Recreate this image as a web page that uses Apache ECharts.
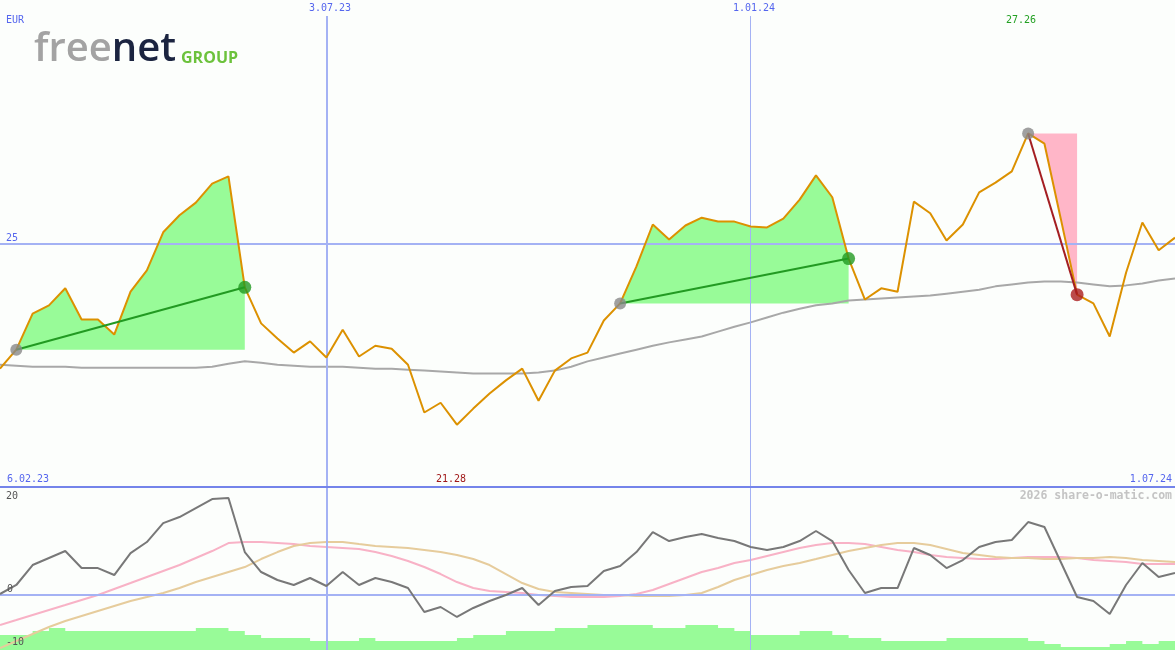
<!DOCTYPE html>
<html><head><meta charset="utf-8">
<script src="https://cdn.jsdelivr.net/npm/echarts@6/dist/echarts.min.js"></script>
<style>html,body{margin:0;padding:0;background:#fcfefc}#c{width:1175px;height:650px}</style>
</head><body><div id="c"></div>
<script>
// ---- data (weekly points, index 0..72) ----
const price = [22.43,22.82,23.56,23.73,24.08,23.44,23.44,23.13,24.01,24.45,25.23,25.58,25.84,26.23,26.38,24.10,23.36,23.05,22.76,22.99,22.66,23.23,22.68,22.90,22.84,
22.51,21.53,21.73,21.28,21.61,21.92,22.19,22.43,21.77,22.39,22.64,22.76,23.42,23.77,24.53,25.39,25.08,25.37,25.53,25.45,25.45,25.35,25.33,25.51,25.90,
26.40,25.95,24.69,23.85,24.08,24.01,25.86,25.62,25.06,25.39,26.05,26.25,26.48,27.26,27.05,25.51,23.95,23.77,23.09,24.40,25.43,24.86,25.12];
const movingAvg = [22.51,22.49,22.47,22.47,22.47,22.45,22.45,22.45,22.45,22.45,22.45,22.45,22.45,22.47,22.53,22.58,22.55,22.51,22.49,22.47,22.47,22.47,22.45,22.43,22.43,
22.41,22.39,22.37,22.35,22.33,22.33,22.33,22.33,22.35,22.39,22.47,22.58,22.66,22.74,22.82,22.90,22.97,23.03,23.09,23.19,23.29,23.38,23.48,23.58,23.66,
23.73,23.77,23.83,23.85,23.87,23.89,23.91,23.93,23.97,24.01,24.05,24.12,24.16,24.20,24.22,24.22,24.20,24.16,24.12,24.14,24.18,24.24,24.28];
const momentum = [0.19,1.89,5.66,6.98,8.30,5.09,5.09,3.77,7.92,10.0,13.58,14.72,16.42,18.11,18.30,8.11,4.34,2.83,1.89,3.21,1.70,4.34,1.89,3.21,2.45,
1.32,-3.21,-2.26,-4.15,-2.45,-1.13,0,1.32,-1.89,0.75,1.51,1.70,4.53,5.47,8.11,11.89,10.19,10.94,11.51,10.75,10.19,9.06,8.49,9.06,10.19,
12.08,10.19,4.72,0.38,1.32,1.32,8.87,7.55,5.09,6.60,9.06,10.0,10.38,13.77,12.83,6.23,-0.38,-1.13,-3.58,1.89,6.04,3.40,4.15];
const signalPink = [-5.66,-4.72,-3.77,-2.83,-1.89,-0.94,0,1.13,2.26,3.40,4.53,5.66,6.98,8.30,9.81,10.0,10.0,9.81,9.62,9.25,9.06,8.87,8.68,8.11,7.36,
6.42,5.28,3.96,2.45,1.32,0.75,0.57,0.38,0,-0.19,-0.38,-0.38,-0.38,-0.19,0.19,0.94,2.08,3.21,4.34,5.09,6.04,6.60,7.36,8.11,8.87,
9.43,9.81,9.81,9.62,9.06,8.49,8.11,7.55,7.17,6.98,6.79,6.79,6.98,7.17,7.17,7.17,6.98,6.60,6.42,6.23,5.85,5.85,5.85];
const signalTan = [-10.0,-8.68,-7.36,-6.04,-4.91,-3.96,-3.02,-2.08,-1.13,-0.38,0.38,1.32,2.45,3.40,4.34,5.28,6.79,8.11,9.25,9.81,10.0,10.0,9.62,9.25,9.06,
8.87,8.49,8.11,7.55,6.79,5.66,3.96,2.26,1.13,0.57,0.38,0.19,0,0,-0.19,-0.19,-0.19,0,0.38,1.51,2.83,3.77,4.72,5.47,6.04,
6.79,7.55,8.30,8.87,9.43,9.81,9.81,9.43,8.68,7.92,7.55,7.17,6.98,6.98,6.79,6.79,6.98,6.98,7.17,6.98,6.60,6.42,6.23];
const histBars = [-7.55,-7.55,-6.79,-6.23,-6.79,-6.79,-6.79,-6.79,-6.79,-6.79,-6.79,-6.79,-6.23,-6.23,-6.79,-7.55,-8.11,-8.11,-8.11,-8.68,-8.68,-8.68,-8.11,-8.68,-8.68,
-8.68,-8.68,-8.68,-8.11,-7.55,-7.55,-6.79,-6.79,-6.79,-6.23,-6.23,-5.66,-5.66,-5.66,-5.66,-6.23,-6.23,-5.66,-5.66,-6.23,-6.79,-7.55,-7.55,-7.55,-6.79,
-6.79,-7.55,-8.11,-8.11,-8.68,-8.68,-8.68,-8.68,-8.11,-8.11,-8.11,-8.11,-8.11,-8.68,-9.25,-9.81,-9.81,-9.81,-9.25,-8.68,-9.25,-8.68];
const buySignals = [[1, 15], [38, 52]];   // [entry index, exit index]
const sellSignals = [[63, 66]];
const dateLineIdx = [20, 46];
const dateLabels = ['3.07.23', '1.01.24'];
const priceTick = 25;
const maxLabel = '27.26', minLabel = '21.28';
const startLabel = '6.02.23', endLabel = '1.07.24';

// ---- build ----
const chart = echarts.init(document.getElementById('c'), null, {renderer: 'canvas'});
const pts = (arr, a, b) => { const r = []; for (let i = a; i <= b; i++) r.push([i, arr[i]]); return r; };
const GRID = '#a4b2f4';
const series = [];
const mono = '"DejaVu Sans Mono", monospace';

function bandSeries(s, e, color, z) {
  const data = [];
  for (let i = s; i <= e; i++) data.push([i, price[i], price[s]]);
  return {type: 'custom', data, z, silent: true, clip: true, encode: {x: 0, y: 1},
    renderItem: (params, api) => {
      if (params.dataIndex !== 0) return;
      const top = [], bot = [];
      for (let k = 0; k < data.length; k++) {
        top.push(api.coord([data[k][0], data[k][1]]));
        bot.push(api.coord([data[k][0], data[k][2]]));
      }
      return {type: 'polygon', shape: {points: top.concat(bot.reverse())}, style: {fill: color}};
    }};
}

// grid lines top
series.push({type: 'line', xAxisIndex: 0, yAxisIndex: 0, data: [[0, priceTick]], showSymbol: false, lineStyle: {opacity: 0}, z: 2, silent: true,
  markLine: {silent: true, symbol: 'none', label: {show: false}, animation: false,
    data: [
      {yAxis: priceTick, lineStyle: {color: GRID, width: 2, type: 'solid'}},
      [{coord: [dateLineIdx[0], 29.67], lineStyle: {color: GRID, width: 2, type: 'solid'}}, {coord: [dateLineIdx[0], 20]}],
      [{coord: [dateLineIdx[1], 29.67], lineStyle: {color: GRID, width: 1, type: 'solid'}}, {coord: [dateLineIdx[1], 20]}]
    ]}});
// grid lines bottom
series.push({type: 'line', xAxisIndex: 1, yAxisIndex: 1, data: [[0, 0]], showSymbol: false, lineStyle: {opacity: 0}, z: 1, silent: true,
  markLine: {silent: true, symbol: 'none', label: {show: false}, animation: false,
    data: [
      {yAxis: 0, lineStyle: {color: GRID, width: 2, type: 'solid'}},
      {xAxis: dateLineIdx[0], lineStyle: {color: GRID, width: 2, type: 'solid'}},
      {xAxis: dateLineIdx[1], lineStyle: {color: GRID, width: 1, type: 'solid'}}
    ]}});

buySignals.forEach(([s, e]) => series.push(bandSeries(s, e, '#98fb98', 3)));
sellSignals.forEach(([s, e]) => series.push(bandSeries(s, e, '#ffb6c8', 1)));

// moving average
series.push({type: 'line', data: pts(movingAvg, 0, 72), showSymbol: false, lineStyle: {color: '#a8a8a8', width: 2}, z: 4, silent: true});
// price
series.push({type: 'line', data: pts(price, 0, 72), showSymbol: false, lineStyle: {color: '#dc9100', width: 2}, z: 5, silent: true});
// trend lines + markers
buySignals.forEach(([s, e]) => {
  series.push({type: 'line', data: [[s, price[s]], [e, price[e]]], showSymbol: false, lineStyle: {color: '#229a22', width: 2}, z: 6, silent: true});
  series.push({type: 'scatter', data: [[s, price[s]]], symbolSize: 12, itemStyle: {color: '#888888'}, z: 7, silent: true});
  series.push({type: 'scatter', data: [[e, price[e]]], symbolSize: 13, itemStyle: {color: '#229a22'}, z: 7, silent: true});
});
sellSignals.forEach(([s, e]) => {
  series.push({type: 'line', data: [[s, price[s]], [e, price[e]]], showSymbol: false, lineStyle: {color: '#a41e22', width: 2}, z: 6, silent: true});
  series.push({type: 'scatter', data: [[s, price[s]]], symbolSize: 12, itemStyle: {color: '#888888'}, z: 7, silent: true});
  series.push({type: 'scatter', data: [[e, price[e]]], symbolSize: 13, itemStyle: {color: '#aa1e1e'}, z: 7, silent: true});
});
// bottom panel
const histData = pts(histBars, 0, 71); histData.push([72, histBars[71]]);
series.push({type: 'line', xAxisIndex: 1, yAxisIndex: 1, data: histData, step: 'end', showSymbol: false, lineStyle: {opacity: 0},
  areaStyle: {color: '#98fb98', opacity: 1, origin: 'start'}, z: 3, silent: true});
series.push({type: 'line', xAxisIndex: 1, yAxisIndex: 1, data: pts(signalPink, 0, 72), showSymbol: false, lineStyle: {color: '#f8b2c6', width: 2}, z: 4, silent: true});
series.push({type: 'line', xAxisIndex: 1, yAxisIndex: 1, data: pts(signalTan, 0, 72), showSymbol: false, lineStyle: {color: '#e6cc9c', width: 2}, z: 4, silent: true});
series.push({type: 'line', xAxisIndex: 1, yAxisIndex: 1, data: pts(momentum, 0, 72), showSymbol: false, lineStyle: {color: '#787878', width: 2}, z: 5, silent: true});

const txt = (x, y, t, color, opts = {}) => ({type: 'text', x, y, silent: true, z: 100,
  style: Object.assign({text: t, fill: color, font: '10px ' + mono, textVerticalAlign: 'middle'}, opts)});
const BLUE = '#5566ee';

chart.setOption({
  animation: false,
  backgroundColor: '#fcfefc',
  grid: [
    {left: 0, right: 0, top: 0, height: 487},
    {left: 0, right: 0, top: 488, height: 162}
  ],
  xAxis: [
    {type: 'value', gridIndex: 0, min: 0, max: 72, show: false},
    {type: 'value', gridIndex: 1, min: 0, max: 72, show: false}
  ],
  yAxis: [
    {type: 'value', gridIndex: 0, min: 20, max: 30, show: false},
    {type: 'value', gridIndex: 1, min: -10.38, max: 20.2, show: false}
  ],
  series,
  graphic: [
    {type: 'rect', shape: {x: 0, y: 486, width: 1175, height: 2}, style: {fill: '#7484ea'}, silent: true, z: 50},
    txt(6, 20, 'EUR', BLUE),
    txt(6, 238, String(priceTick), BLUE),
    txt(330, 8, dateLabels[0], BLUE, {textAlign: 'center'}),
    txt(754, 8, dateLabels[1], BLUE, {textAlign: 'center'}),
    txt(1021, 20, maxLabel, '#22a022', {textAlign: 'center'}),
    txt(451, 479, minLabel, '#a01818', {textAlign: 'center'}),
    txt(7, 479, startLabel, BLUE),
    txt(1172, 479, endLabel, BLUE, {textAlign: 'right'}),
    txt(1172, 496, '2026 share-o-matic.com', '#c4c4c4', {textAlign: 'right', font: 'bold 11.5px ' + mono}),
    txt(6, 496, '20', '#555555'),
    txt(7, 589, '0', '#555555'),
    txt(6, 642, '-10', '#555555'),
    {type: 'text', x: 34, y: 70, silent: true, z: 100,
      style: {text: '{a|free}{b|net}', textVerticalAlign: 'bottom',
        rich: {a: {fill: '#a3a3a3', font: '600 40px "Open Sans", sans-serif'}, b: {fill: '#1b2440', font: '600 40px "Open Sans", sans-serif'}}}},
    {type: 'text', x: 181, y: 66, silent: true, z: 100,
      style: {text: 'GROUP', fill: '#6cc23c', font: 'bold 16px "Open Sans", sans-serif', textVerticalAlign: 'bottom'}}
  ]
});
</script></body></html>
